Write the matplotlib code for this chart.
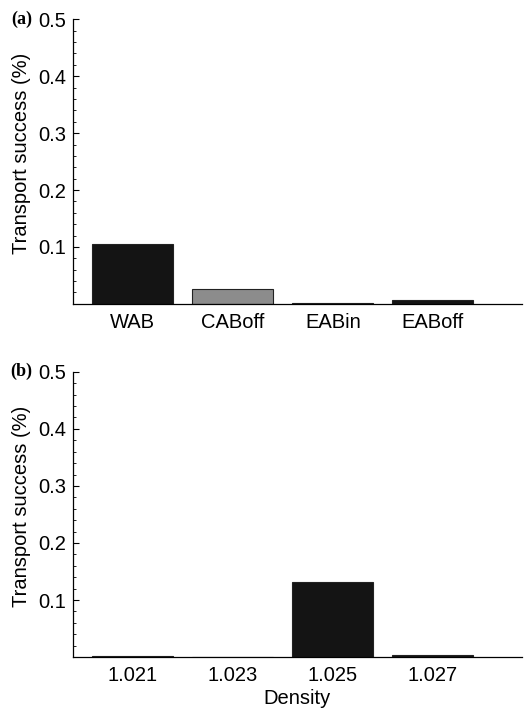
import numpy as np
import matplotlib
matplotlib.use("Agg")
import matplotlib.pyplot as plt
from matplotlib.ticker import MultipleLocator

# panel (a): water mass categories
cats_a   = ["WAB", "CABoff", "EABin", "EABoff"]
vals_a   = [0.105, 0.026, 0.001, 0.006]
colors_a = ["#141414", "#8c8c8c", "#141414", "#141414"]

# panel (b): release density
cats_b = ["1.021", "1.023", "1.025", "1.027"]
vals_b = [0.002, 0.001, 0.131, 0.004]

plt.rcParams["font.family"] = ["Liberation Sans", "DejaVu Sans"]
FS = 14.5

fig = plt.figure(figsize=(5.24, 7.15), dpi=100)
ax_a = fig.add_axes([0.139, 0.575, 0.857, 0.398])
ax_b = fig.add_axes([0.139, 0.081, 0.857, 0.399])


def style(ax, cats):
    ax.set_ylim(0, 0.5)
    ax.set_xlim(-0.6, 3.89)
    ax.set_xticks(range(len(cats)))
    ax.set_xticklabels(cats, fontsize=FS)
    ax.tick_params(axis="x", length=0, pad=6.5)
    ax.yaxis.set_major_locator(MultipleLocator(0.1))
    ax.yaxis.set_minor_locator(MultipleLocator(0.02))
    ax.set_yticks([0.1, 0.2, 0.3, 0.4, 0.5])
    ax.set_yticklabels(["0.1", "0.2", "0.3", "0.4", "0.5"], fontsize=FS)
    ax.tick_params(axis="y", which="major", direction="in", length=4, width=0.8, pad=5)
    ax.tick_params(axis="y", which="minor", direction="in", length=2, width=0.6)
    for s in ["top", "right"]:
        ax.spines[s].set_visible(False)
    for s in ["left", "bottom"]:
        ax.spines[s].set_linewidth(0.9)
    ax.set_ylabel("Transport success (%)", fontsize=FS)
    ax.yaxis.set_label_coords(-0.094, 0.53)


x = np.arange(len(cats_a))
ax_a.bar(x, vals_a, width=0.81, color=colors_a, edgecolor="#222222", linewidth=0.8)
style(ax_a, cats_a)
ax_a.text(-0.09, 1.0, "(a)", transform=ax_a.transAxes, fontsize=13,
          family=["Liberation Serif", "DejaVu Serif"], fontweight="bold",
          ha="right", va="center")

ax_b.bar(x, vals_b, width=0.81, color="#141414", edgecolor="#222222", linewidth=0.8)
style(ax_b, cats_b)
ax_b.set_xlabel("Density", fontsize=FS, labelpad=3)
ax_b.text(-0.09, 1.0, "(b)", transform=ax_b.transAxes, fontsize=13,
          family=["Liberation Serif", "DejaVu Serif"], fontweight="bold",
          ha="right", va="center")

fig.savefig("out.png", dpi=100)
